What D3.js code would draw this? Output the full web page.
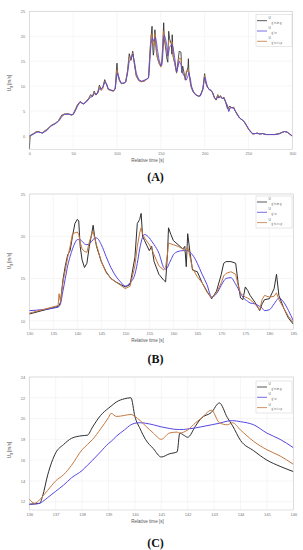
<!DOCTYPE html>
<html><head><meta charset="utf-8">
<script src="https://cdn.jsdelivr.net/npm/d3@7"></script>
<style>body{margin:0;background:#fff}svg{display:block}</style>
</head><body>
<script>
// ---------- Panel A data ----------
const tA = [0,1,3,5,8,10,13,15,18,20,23,25,28,30,33,35,37,40,43,45,48,50,53,55,58,60,62,65,68,70,72,74,76,78,80,82,84,86,88,90,93,96,98,100,101,103,105,108,110,112,114,116,118,120,122,125,128,131,134,136,137,138,139,140,141,141.5,142,143.3,144,145,146,148,150,151,152,153.3,154,155,156,157,158,159,160,162,162.7,163,164,166,168,170,171,173,174,175,177,178,179,181,181.5,182,184,185,187,190,193,195,198,200,201,203,205,207,209,211,213,215,216,218,220,222,224,226,227.5,229,231,233,235,237,240,243,245,248,250,253,255,258,260,263,266,270,275,280,285,288,291,294,297,300];
const blackA = [-2.6,0.1,0.3,0.5,0.9,0.9,0.7,0.6,1.1,1.3,1.8,2.1,2.4,2.6,3.0,3.6,4.2,4.4,4.4,4.4,4.2,4.4,5.5,6.3,6.9,6.6,6.4,7.0,7.6,8.3,7.9,9.0,8.2,8.7,10.2,9.3,9.8,11.3,10.4,9.4,9.2,9.0,9.6,14.6,12.2,11.0,10.5,10.6,10.9,13.0,16.5,15.2,17.0,14.2,12.0,11.1,10.9,11.0,11.4,11.7,14.8,17.8,20.0,22.0,17.2,16.2,16.8,21.3,18.8,17.0,15.8,14.6,14.0,14.3,17.5,22.7,19.5,18.3,17.0,15.5,14.8,21.0,19.5,18.5,16.4,20.3,16.0,14.5,12.6,15.5,17.0,16.8,12.7,14.0,12.2,11.2,12.5,13.8,15.5,13.0,10.3,9.6,8.8,8.2,8.0,8.1,9.5,12.5,10.8,9.8,9.4,9.2,8.7,7.8,7.2,8.3,7.6,8.1,7.5,7.8,6.8,5.5,5.8,6.0,5.6,5.8,5.0,4.3,3.6,3.2,2.9,2.0,1.4,0.7,0.4,0.5,0.6,0.4,0.5,0.3,0.3,0.3,0.5,0.7,0.9,0.8,0.4,0.0];
const blueA = [0,0.1,0.2,0.4,0.7,0.8,0.7,0.6,0.9,1.1,1.7,2.0,2.3,2.5,2.9,3.3,3.9,4.3,4.4,4.4,4.3,4.3,5.2,6.0,6.8,6.6,6.5,6.8,7.4,7.8,7.9,8.5,8.4,8.6,9.5,9.5,9.8,10.8,10.5,9.5,9.2,9.1,9.4,12.5,12.6,11.3,10.6,10.6,10.8,12.5,15.0,15.3,16.4,14.8,12.6,11.3,11.0,11.2,11.4,11.6,13.5,16.5,18.5,19.6,19.5,19.2,19.0,19.5,19.8,19.0,17.5,15.3,14.1,14.5,15.5,19.5,20.2,19.8,19.0,18.0,16.1,16.8,17.8,18.3,18.3,18.3,17.8,15.5,12.8,14.2,15.0,14.3,13.2,12.5,12.0,11.7,11.2,12.0,12.4,12.7,11.2,10.0,9.0,8.3,8.0,8.0,9.3,11.8,11.5,10.0,9.3,9.2,8.8,7.8,7.3,7.8,7.8,7.8,7.6,7.5,6.8,6.0,4.9,5.6,5.7,5.6,5.0,4.5,3.6,3.2,2.9,2.1,1.5,0.8,0.5,0.5,0.5,0.4,0.5,0.3,0.3,0.3,0.4,0.7,0.9,0.8,0.4,0.0];
const orangeA = [-0.5,0.1,0.3,0.5,0.8,0.9,0.7,0.7,1.0,1.2,1.8,2.1,2.4,2.6,3.0,3.5,4.1,4.4,4.4,4.4,4.2,4.3,5.4,6.2,6.9,6.6,6.4,6.9,7.6,8.1,7.9,8.8,8.3,8.7,9.9,9.1,9.6,11.0,10.5,9.3,9.1,9.0,9.5,13.3,12.5,11.1,10.5,10.6,10.9,12.8,15.8,15.4,16.7,14.5,12.2,11.1,10.9,11.0,11.4,11.8,14.5,17.5,20.3,20.5,18.5,18.2,18.1,20.5,19.0,17.0,15.7,14.6,13.8,14.1,16.5,21.0,19.8,19.0,17.8,16.5,16.0,19.2,19.0,18.5,18.2,18.8,16.2,14.5,12.7,14.5,15.6,15.5,13.3,12.8,12.0,11.3,13.0,12.9,13.3,12.5,10.5,9.8,8.9,8.2,8.0,8.1,9.4,12.2,11.0,9.9,9.4,9.0,8.7,7.6,7.3,8.2,7.7,8.0,7.5,7.7,6.8,6.2,5.0,5.8,5.7,5.7,5.0,4.4,3.6,3.2,2.9,2.0,1.4,0.7,0.4,0.5,0.6,0.4,0.5,0.3,0.3,0.3,0.5,0.7,0.9,0.8,0.4,0.0];
const xTicksA = [0,50,100,150,200,250,300];
const yTicksA = [0,5,10,15,20,25];

// ---------- Panel B data ----------
const tB = [130,136,136.2,136.5,137,137.5,138,138.5,139,139.5,140,140.3,140.6,141,141.5,142,142.5,143,143.3,143.6,144,145,146,147,148,149,150,151,152,152.5,153,153.3,153.6,154,155,155.5,156,157,158,158.4,158.8,159,159.5,160,161,162,162.4,162.7,163,163.5,164,165,166,167,168,169,170,170.5,171,172,173,173.5,174,174.5,175,175.5,176,177,178,178.5,179,180,181,181.5,182,183,184,185];
const blackB = [10.8,11.7,11.8,12.2,14.8,16.5,17.8,18.3,20.0,21.5,22.0,21.8,18.8,17.2,16.3,16.8,18.8,20.3,21.3,20.0,18.8,17.0,15.8,15.0,14.6,14.3,14.0,14.3,17.5,21.5,22.0,22.7,20.0,19.5,18.3,18.8,17.0,15.5,14.8,14.6,18.0,21.0,20.2,19.5,19.0,18.5,18.8,16.4,20.3,18.0,16.0,15.8,14.5,13.5,12.6,13.5,15.5,16.8,17.0,17.0,16.8,14.5,12.7,12.5,14.0,13.6,13.0,12.2,11.2,12.0,12.5,12.6,13.8,15.5,13.0,11.5,10.3,9.6];
const blueB = [11.2,11.6,11.7,12.0,13.5,15.0,16.5,17.6,18.5,19.2,19.6,19.6,19.6,19.4,19.1,19.0,19.1,19.4,19.6,19.8,19.8,19.0,17.6,16.3,15.3,14.6,14.1,14.5,15.5,16.8,18.5,19.3,19.9,20.2,19.8,19.4,19.0,18.0,16.3,16.1,16.3,16.6,17.2,17.8,18.2,18.3,18.3,18.3,18.3,18.1,17.8,16.8,15.5,14.3,12.8,13.2,14.2,14.7,15.0,15.1,14.3,13.8,13.2,12.8,12.5,12.3,12.1,12.0,11.7,11.5,11.2,11.3,12.0,12.4,12.7,12.2,11.2,10.0];
const orangeB = [10.9,11.8,13.2,12.2,14.5,16.0,17.5,18.8,20.3,20.4,20.5,20.2,19.3,18.5,18.2,18.1,19.3,20.2,20.6,19.8,19.0,17.0,15.7,15.0,14.6,14.2,13.8,14.1,16.5,18.8,20.4,21.0,20.3,19.8,19.0,18.5,17.8,16.5,16.0,16.3,18.0,19.2,19.1,19.0,18.8,18.5,18.2,18.2,18.8,17.5,16.2,15.2,14.5,13.4,12.7,13.3,14.5,15.3,15.6,15.8,15.5,14.2,13.3,13.0,12.8,12.7,12.5,12.0,11.3,12.5,13.0,12.8,12.9,13.3,12.5,11.5,10.5,9.8];
const xTicksB = [130,135,140,145,150,155,160,165,170,175,180,185];
const yTicksB = [10,15,20,25];

// ---------- Panel C data ----------
const tC = [136,136.2,136.4,136.5,136.7,137,137.3,137.6,138,138.2,138.4,138.7,139,139.1,139.3,139.6,139.85,140,140.2,140.4,140.7,141,141.3,141.6,141.7,141.85,142,142.3,142.5,142.9,143.2,143.5,143.7,144,144.5,145,145.5,146];
const blackC = [11.75,11.8,11.85,12.5,14.6,16.7,17.5,18.1,18.35,18.4,19.2,20.3,21.0,21.2,21.6,21.9,22.0,20.2,19.0,18.0,17.1,16.3,16.6,16.8,18.6,18.4,18.2,19.3,20.0,20.6,21.5,20.1,19.3,17.9,16.9,16.0,15.4,14.9];
const blueC = [11.75,11.77,11.85,12.0,12.4,13.0,13.6,14.3,15.0,15.5,16.0,16.8,17.6,17.8,18.3,18.9,19.4,19.55,19.6,19.55,19.4,19.2,19.05,18.95,18.95,18.95,19.0,19.1,19.2,19.4,19.55,19.75,19.8,19.7,19.4,18.6,18.0,17.2];
const orangeC = [12.25,11.85,12.2,12.5,13.1,14.0,14.6,15.5,17.0,17.5,18.0,19.0,20.1,20.5,20.2,20.3,20.4,20.2,19.8,19.3,18.6,18.0,18.6,18.7,18.6,18.7,18.9,19.6,20.0,20.8,19.6,19.4,19.6,18.9,17.8,17.0,16.4,15.6];
const xTicksC = [136,137,138,139,140,141,142,143,144,145,146];
const yTicksC = [12,14,16,18,20,22,24];

const legendSubs = ["' n-m g", "' sr", "' n-t c p"];
const panelLetters = ["(A)", "(B)", "(C)"];

const COLORS = {black: "#2e2e2e", blue: "#5546e0", orange: "#c4773e"};

const svg = d3.select("body").append("svg").attr("width", 303).attr("height", 550);

const panels = [
  {t: tA, b: blackA, u: blueA, o: orangeA, xd: [0,300], yd: [-2.7,25], xr: [29.3,292.3], yr: [149.5,11.3],
   xt: xTicksA, yt: yTicksA, legTop: 14.7, letterY: 180.5, order: ["b","o","u"], sw: 0.85, ylabY: 83,
   smooth: {b: false, u: false, o: false}},
  {t: tB, b: blackB, u: blueB, o: orangeB, xd: [130,185], yd: [9,25], xr: [29.3,293.3], yr: [329.2,194],
   xt: xTicksB, yt: yTicksB, legTop: 196, letterY: 363, order: ["b","u","o"], sw: 1, ylabY: 261,
   smooth: {b: false, u: true, o: false}},
  {t: tC, b: blackC, u: blueC, o: orangeC, xd: [136,146], yd: [11.2,24], xr: [29.3,293.3], yr: [510,377],
   xt: xTicksC, yt: yTicksC, legTop: 381, letterY: 546.5, order: ["b","u","o"], sw: 1, ylabY: 450,
   smooth: {b: true, u: true, o: true}}
];

panels.forEach((p, pi) => {
  const x = d3.scaleLinear().domain(p.xd).range(p.xr);
  const y = d3.scaleLinear().domain(p.yd).range(p.yr);
  const g = svg.append("g");
  const [x0, x1] = p.xr, [yb, yt] = p.yr;

  // grid
  g.selectAll(".gx").data(p.xt).join("line")
    .attr("x1", d => x(d)).attr("x2", d => x(d)).attr("y1", yt).attr("y2", yb)
    .attr("stroke", "#ededed").attr("stroke-width", 0.5);
  g.selectAll(".gy").data(p.yt).join("line")
    .attr("x1", x0).attr("x2", x1).attr("y1", d => y(d)).attr("y2", d => y(d))
    .attr("stroke", "#ededed").attr("stroke-width", 0.5);

  // box
  g.append("rect").attr("x", x0).attr("y", yt).attr("width", x1 - x0).attr("height", yb - yt)
    .attr("fill", "none").attr("stroke", "#cdcdcd").attr("stroke-width", 0.6);

  // axes via d3
  const xAxis = d3.axisBottom(x).tickValues(p.xt).tickSize(0).tickPadding(3);
  const yAxis = d3.axisLeft(y).tickValues(p.yt).tickSize(0).tickPadding(4);
  const gx = g.append("g").attr("transform", `translate(0,${yb})`).call(xAxis);
  const gy = g.append("g").attr("transform", `translate(${x0},0)`).call(yAxis);
  [gx, gy].forEach(a => {
    a.select(".domain").remove();
    a.selectAll("text").attr("font-family", "Liberation Sans, Arial, sans-serif")
      .attr("font-size", 4).attr("fill", "#777");
  });

  // x label
  g.append("text").attr("x", 147.5).attr("y", yb + 12.5).attr("text-anchor", "middle")
    .attr("font-family", "Liberation Sans, Arial, sans-serif").attr("font-size", 4.6).attr("fill", "#555")
    .text("Relative time [s]");

  // y label
  const yl = g.append("text").attr("transform", `translate(10.5,${p.ylabY}) rotate(-90)`)
    .attr("text-anchor", "middle").attr("font-family", "Liberation Sans, Arial, sans-serif")
    .attr("font-size", 4.6).attr("fill", "#555");
  yl.append("tspan").text("U");
  yl.append("tspan").attr("dy", 1.5).attr("font-size", 3.4).text("g");
  yl.append("tspan").attr("dy", -1.5).text(" [m/s]");

  // lines
  const series = {b: p.b, u: p.u, o: p.o};
  const cols = {b: COLORS.black, u: COLORS.blue, o: COLORS.orange};
  const clipId = "clip" + pi;
  svg.append("clipPath").attr("id", clipId).append("rect")
    .attr("x", x0).attr("y", yt).attr("width", x1 - x0).attr("height", yb - yt);
  p.order.forEach(k => {
    const line = d3.line().x((d, i) => x(p.t[i])).y(d => y(d))
      .curve(p.smooth[k] ? d3.curveMonotoneX : d3.curveLinear);
    g.append("path").datum(series[k]).attr("d", line).attr("fill", "none")
      .attr("stroke", cols[k]).attr("stroke-width", p.sw).attr("stroke-linejoin", "round")
      .attr("clip-path", `url(#${clipId})`);
  });

  // legend
  const lg = g.append("g");
  lg.append("rect").attr("x", 256).attr("y", p.legTop).attr("width", 36).attr("height", 32)
    .attr("fill", "#fff").attr("stroke", "#cfcfcf").attr("stroke-width", 0.5);
  ["b","u","o"].forEach((k, i) => {
    const cy = p.legTop + 6 + i * 10.3;
    lg.append("line").attr("x1", 257).attr("x2", 267).attr("y1", cy).attr("y2", cy)
      .attr("stroke", cols[k]).attr("stroke-width", 0.8);
    lg.append("text").attr("x", 268.5).attr("y", cy - 2).attr("font-family", "Liberation Sans, Arial, sans-serif")
      .attr("font-size", 3.2).attr("fill", "#555").text("U");
    lg.append("text").attr("x", 271.5).attr("y", cy + 2.8).attr("font-family", "Liberation Sans, Arial, sans-serif")
      .attr("font-size", 2.8).attr("fill", "#555").text("g" + legendSubs[i]);
  });

  // panel letter
  svg.append("text").attr("x", 155.5).attr("y", p.letterY).attr("text-anchor", "middle")
    .attr("font-family", "Liberation Serif, Times New Roman, serif").attr("font-weight", "bold")
    .attr("font-size", 12).attr("fill", "#111").text(panelLetters[pi]);
});
</script>
</body></html>
